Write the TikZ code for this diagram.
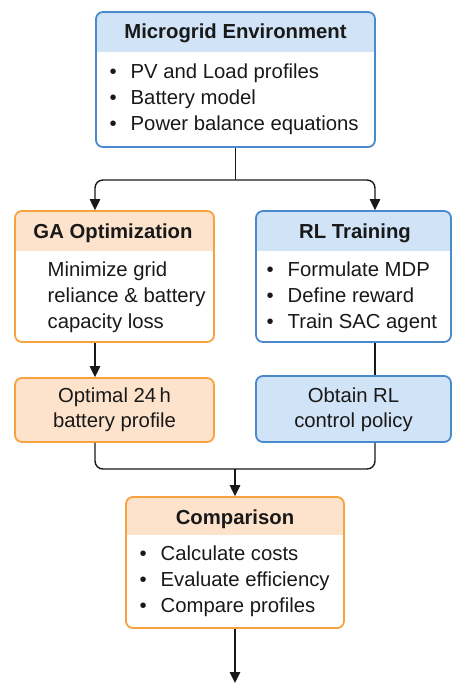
\documentclass[tikz,border=0pt]{standalone}
\usepackage{fontspec}
\setmainfont{Liberation Sans}
\usetikzlibrary{arrows.meta,fit}
\definecolor{bborder}{RGB}{74,138,204}
\definecolor{bfill}{RGB}{208,227,247}
\definecolor{oborder}{RGB}{247,162,62}
\definecolor{ofill}{RGB}{253,227,203}
\definecolor{ink}{RGB}{25,25,25}
\newcommand\bul{\makebox[21pt][l]{\textbullet}}
\begin{document}
\begin{tikzpicture}[x=1pt,y=-1pt,
  boxshape/.style={line width=1.8pt, rounded corners=7pt, inner sep=0pt},
  headed/.style n args={3}{boxshape, draw=#1,
    path picture={\fill[#2, sharp corners] (path picture bounding box.north west) rectangle ([yshift=-#3]path picture bounding box.north east);}},
  plainbox/.style 2 args={boxshape, draw=#1, fill=#2},
  title/.style={font=\fontsize{20.3}{24}\selectfont\bfseries, text=ink, inner sep=0pt},
  body/.style={font=\fontsize{20.3}{26}\selectfont, text=ink, inner sep=0pt, align=left},
  cbody/.style={font=\fontsize{20.3}{25}\selectfont, text=ink, inner sep=0pt, align=center},
  conn/.style={draw=ink, line width=1.4pt, rounded corners=8pt},
  arr/.style={-{Triangle[length=11pt,width=10.5pt]}}
]
\useasboundingbox (0,0) rectangle (452,683);

% boxes
\node[fit={(96,12) (375,147)}, headed={bborder}{bfill}{40pt}] (env) {};
\node[fit={(15,211) (214,342)}, headed={oborder}{ofill}{40pt}] (ga) {};
\node[fit={(256,211) (451,342)}, headed={bborder}{bfill}{40pt}] (rl) {};
\node[fit={(15,378) (214,442)}, plainbox={oborder}{ofill}] (opt) {};
\node[fit={(256,376) (451,442)}, plainbox={bborder}{bfill}] (obt) {};
\node[fit={(126,497) (344,628)}, headed={oborder}{ofill}{38pt}] (cmp) {};

% texts
\node[title] (envT) at (235.5,33) {Microgrid Environment};
\node[body, anchor=west] (envB) at (109.5,99) {\bul PV and Load profiles\\\bul Battery model\\\bul Power balance equations};

\node[title] (gaT) at (113,233) {GA Optimization};
\node[body, anchor=west] (gaB) at (47.5,297) {Minimize grid\\reliance \& battery\\capacity loss};

\node[title] (rlT) at (355,233) {RL Training};
\node[body, anchor=west] (rlB) at (266.5,297) {\bul Formulate MDP\\\bul Define reward\\\bul Train SAC agent};

\node[cbody] (optT) at (114.5,410) {Optimal 24\,h\\battery profile};
\node[cbody] (obtT) at (353.5,410) {Obtain RL\\control policy};

\node[title] (cmpT) at (235,519) {Comparison};
\node[body, anchor=west] (cmpB) at (139.5,581) {\bul Calculate costs\\\bul Evaluate efficiency\\\bul Compare profiles};

% connectors
\coordinate (split) at (235.5,180);
\coordinate (merge) at (235,469);
\coordinate (out) at (235,683);
\draw[conn] (env.south) -- (split);
\draw[conn,arr] (split) -| ([xshift=-19.5pt]ga.north);
\draw[conn,arr] (split) -| ([xshift=21.5pt]rl.north);
\draw[conn,arr] ([xshift=-19.5pt]ga.south) -- ([xshift=-19.5pt]opt.north);
\draw[conn] ([xshift=21.5pt]rl.south) -- ([xshift=21.5pt]obt.north);
\draw[conn] ([xshift=-19.5pt]opt.south) |- (merge) -| ([xshift=21.5pt]obt.south);
\draw[conn,arr] (merge) -- (cmp.north);
\draw[conn,arr] (cmp.south) -- (out);
\end{tikzpicture}
\end{document}
